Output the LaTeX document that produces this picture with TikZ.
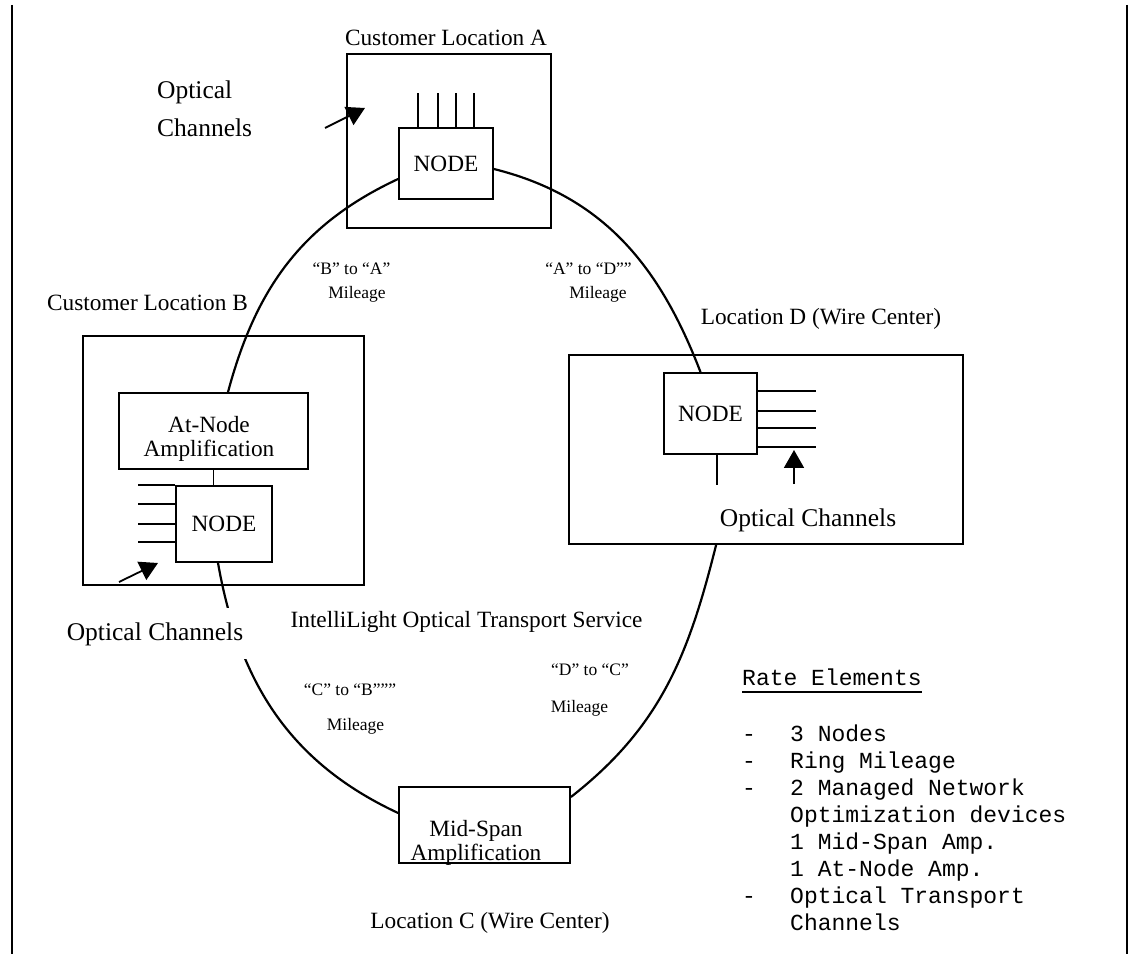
\documentclass[tikz,border=0pt]{standalone}
\usepackage{fontspec}
\setmainfont{Liberation Serif}
\setmonofont{Liberation Mono}
\usetikzlibrary{arrows.meta,calc}

\newcommand{\locsize}{\fontsize{23.3}{24}\selectfont}
\newcommand{\milesize}{\fontsize{17.5}{20}\selectfont}
\newcommand{\chansize}{\fontsize{25.5}{30}\selectfont}
\newcommand{\ratesize}{\ttfamily\fontsize{23}{27}\selectfont}

\begin{document}
\begin{tikzpicture}[x=1pt, y=1pt,
  every node/.style={font=\locsize, inner sep=0pt},
  box/.style={draw, line width=1.8pt},
  unit/.style={box, fill=white},
  ring/.style={line width=2.2pt},
  stub/.style={line width=1.6pt},
  chanarrow/.style={line width=1.8pt, -{Triangle[length=18pt,width=20pt]}},
  frame/.style={line width=2pt},
  mile/.style={font=\milesize, anchor=base},
  chan/.style={font=\chansize, anchor=base},
  rate/.style={font=\ratesize, anchor=base west}]
\useasboundingbox (0,0) rectangle (1131,954);

% frame lines left and right
\draw[frame] (12,949) -- (12,0);
\draw[frame] (1127,949) -- (1127,0);

% Customer Location A
\node[box, minimum width=204, minimum height=174] (boxA) at (449,813) {};
\node[unit, minimum width=94, minimum height=71] (nodeA) at (446,790.5) {NODE};
\node[anchor=base] (locA) at (446,908) {Customer Location A};
\foreach \dx in {20,40,58,76}
  \draw[stub] ([xshift=\dx]nodeA.north west) -- ++(0,34);
\node[chan, anchor=base west] (chanA1) at (157,855) {Optical};
\node[chan, anchor=base west] (chanA2) at (157,817) {Channels};
\coordinate (arrA) at (325,826);
\coordinate (tipA) at (365,846);
\draw[chanarrow] (arrA) -- (tipA);

% Customer Location B
\node[box, minimum width=281, minimum height=249] (boxB) at (223.5,493.5) {};
\node[unit, minimum width=189, minimum height=76] (atnode) at (213.5,523) {};
\node[align=center] (atnodetxt) at (209,515) {At-Node\\Amplification};
\node[unit, minimum width=96, minimum height=76] (nodeB) at (224,430) {NODE};
\node[anchor=base] (locB) at (147.5,643) {Customer Location B};
\draw[stub] (atnode.south) -- (atnode.south |- nodeB.north);
\foreach \dy in {0,19,39,57}
  \draw[stub] ([yshift=-\dy]nodeB.north west) -- ++(-37,0);
\coordinate (arrB) at (119,372);
\coordinate (tipB) at (158,391);
\draw[chanarrow] (arrB) -- (tipB);

% Location D (wire center)
\node[box, minimum width=394, minimum height=189] (boxD) at (766,504.5) {};
\node[unit, minimum width=93, minimum height=81] (nodeD) at (710.5,540.5) {NODE};
\node[anchor=base] (locD) at (821,629) {Location D (Wire Center)};
\foreach \dy in {19,39,56,75}
  \draw[stub] ([yshift=-\dy]nodeD.north east) -- ++(58,0);
\draw[ring] ([xshift=54]nodeD.south west) -- ++(0,-30);
\coordinate (arrD) at (794,470);
\coordinate (tipD) at (794,504);
\draw[chanarrow] (arrD) -- (tipD);
\node[chan] (chanD) at (808,428) {Optical Channels};

% Location C with mid-span amplifier
\node[unit, minimum width=171, minimum height=76] (midspan) at (484.5,129) {};
\node[align=center] (midspantxt) at (476,111) {Mid-Span\\Amplification};
\node[anchor=base] (locC) at (490,26) {Location C (Wire Center)};

% the ring
\draw[ring] ([yshift=-15.5]nodeA.west) to[out=205,in=75] ([xshift=14.5]atnode.north);
\draw[ring] ([xshift=-6]nodeB.south) to[out=280,in=155] ([yshift=12]midspan.west);
\draw[ring] ([yshift=28]midspan.east) to[out=38,in=256] ($(boxD.south west)+(148,0)$);
\draw[ring] ([xshift=-10]nodeD.north) to[out=111,in=-14] ([yshift=-5.5]nodeA.east);

% labels on the ring
\node[chan, fill=white, inner xsep=4pt, inner ysep=14pt] (chanB) at (155,314) {Optical Channels};
\node[anchor=base] (service) at (466.5,327) {IntelliLight Optical Transport Service};
\node[mile] (mileBA) at (351.5,679) {“B” to “A”};
\node[mile] (mileBAb) at (357,655) {Mileage};
\node[mile] (mileAD) at (588.5,679) {“A” to “D””};
\node[mile] (mileADb) at (598,655) {Mileage};
\node[mile] (mileCB) at (350,259) {“C” to “B”””};
\node[mile] (mileCBb) at (355.5,224) {Mileage};
\node[mile] (mileDC) at (590,279) {“D” to “C”};
\node[mile] (mileDCb) at (579.5,242) {Mileage};

% rate elements
\node[rate] (ratehead) at (742,269) {Rate Elements};
\draw[line width=1.5pt] ([yshift=-7]ratehead.base west) -- ([yshift=-7]ratehead.base east);
\foreach \k/\d/\t in {0/-/3 Nodes,1/-/Ring Mileage,2/-/2 Managed Network,3//Optimization devices,4//1 Mid-Span Amp.,5//1 At-Node Amp.,6/-/Optical Transport,7//Channels} {
  \node[rate] (ratedash\k) at (742,{213-27.1*\k}) {\d};
  \node[rate] (rateitem\k) at (790,{213-27.1*\k}) {\t};
}
\end{tikzpicture}
\end{document}
